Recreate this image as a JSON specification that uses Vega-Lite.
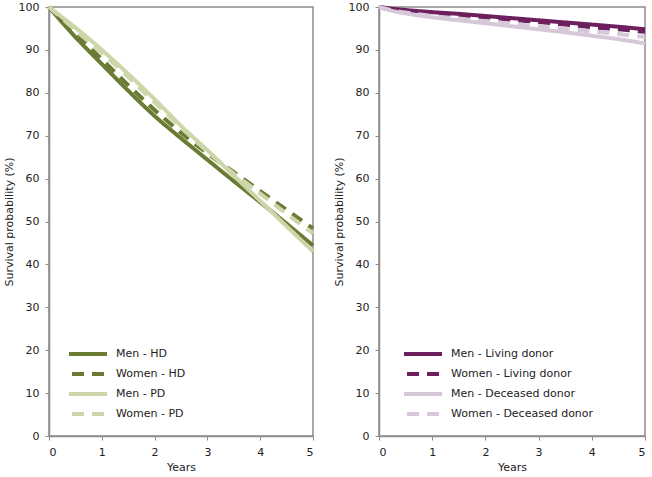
{
  "$schema": "https://vega.github.io/schema/vega-lite/v6.json",
  "padding": {"left": 2, "top": -2, "right": 4, "bottom": 2},
  "background": "white",
  "datasets": {
    "dialysis": [
      {"series": "Men - HD", "year": 0, "survival": 100}, {"series": "Men - HD", "year": 0.25, "survival": 96.4}, {"series": "Men - HD", "year": 0.5, "survival": 93.0}, {"series": "Men - HD", "year": 1, "survival": 86.7}, {"series": "Men - HD", "year": 1.5, "survival": 80.5}, {"series": "Men - HD", "year": 2, "survival": 74.6}, {"series": "Men - HD", "year": 2.5, "survival": 69.4}, {"series": "Men - HD", "year": 3, "survival": 64.4}, {"series": "Men - HD", "year": 3.5, "survival": 59.4}, {"series": "Men - HD", "year": 4, "survival": 54.5}, {"series": "Men - HD", "year": 4.5, "survival": 49.5}, {"series": "Men - HD", "year": 5, "survival": 44.4},
      {"series": "Women - HD", "year": 0, "survival": 100}, {"series": "Women - HD", "year": 0.25, "survival": 96.9}, {"series": "Women - HD", "year": 0.5, "survival": 93.8}, {"series": "Women - HD", "year": 1, "survival": 87.8}, {"series": "Women - HD", "year": 1.5, "survival": 81.8}, {"series": "Women - HD", "year": 2, "survival": 76.0}, {"series": "Women - HD", "year": 2.5, "survival": 70.7}, {"series": "Women - HD", "year": 3, "survival": 65.9}, {"series": "Women - HD", "year": 3.5, "survival": 61.5}, {"series": "Women - HD", "year": 4, "survival": 57.1}, {"series": "Women - HD", "year": 4.5, "survival": 52.7}, {"series": "Women - HD", "year": 5, "survival": 48.4},
      {"series": "Men - PD", "year": 0, "survival": 100}, {"series": "Men - PD", "year": 0.25, "survival": 97.6}, {"series": "Men - PD", "year": 0.5, "survival": 95.2}, {"series": "Men - PD", "year": 1, "survival": 90.0}, {"series": "Men - PD", "year": 1.5, "survival": 84.4}, {"series": "Men - PD", "year": 2, "survival": 78.5}, {"series": "Men - PD", "year": 2.5, "survival": 72.3}, {"series": "Men - PD", "year": 3, "survival": 66.6}, {"series": "Men - PD", "year": 3.5, "survival": 60.7}, {"series": "Men - PD", "year": 4, "survival": 54.8}, {"series": "Men - PD", "year": 4.5, "survival": 48.9}, {"series": "Men - PD", "year": 5, "survival": 43.0},
      {"series": "Women - PD", "year": 0, "survival": 100}, {"series": "Women - PD", "year": 0.25, "survival": 97.3}, {"series": "Women - PD", "year": 0.5, "survival": 94.6}, {"series": "Women - PD", "year": 1, "survival": 89.3}, {"series": "Women - PD", "year": 1.5, "survival": 83.7}, {"series": "Women - PD", "year": 2, "survival": 77.8}, {"series": "Women - PD", "year": 2.5, "survival": 71.9}, {"series": "Women - PD", "year": 3, "survival": 66.3}, {"series": "Women - PD", "year": 3.5, "survival": 61.2}, {"series": "Women - PD", "year": 4, "survival": 56.5}, {"series": "Women - PD", "year": 4.5, "survival": 51.8}, {"series": "Women - PD", "year": 5, "survival": 47.2}
    ],
    "transplant": [
      {"series": "Men - Living donor", "year": 0, "survival": 100}, {"series": "Men - Living donor", "year": 0.25, "survival": 99.6}, {"series": "Men - Living donor", "year": 0.5, "survival": 99.3}, {"series": "Men - Living donor", "year": 1, "survival": 98.8}, {"series": "Men - Living donor", "year": 1.5, "survival": 98.4}, {"series": "Men - Living donor", "year": 2, "survival": 97.9}, {"series": "Men - Living donor", "year": 2.5, "survival": 97.4}, {"series": "Men - Living donor", "year": 3, "survival": 96.9}, {"series": "Men - Living donor", "year": 3.5, "survival": 96.4}, {"series": "Men - Living donor", "year": 4, "survival": 95.9}, {"series": "Men - Living donor", "year": 4.5, "survival": 95.4}, {"series": "Men - Living donor", "year": 5, "survival": 94.8},
      {"series": "Women - Living donor", "year": 0, "survival": 100}, {"series": "Women - Living donor", "year": 0.25, "survival": 99.5}, {"series": "Women - Living donor", "year": 0.5, "survival": 99.1}, {"series": "Women - Living donor", "year": 1, "survival": 98.6}, {"series": "Women - Living donor", "year": 1.5, "survival": 98.1}, {"series": "Women - Living donor", "year": 2, "survival": 97.6}, {"series": "Women - Living donor", "year": 2.5, "survival": 97.0}, {"series": "Women - Living donor", "year": 3, "survival": 96.5}, {"series": "Women - Living donor", "year": 3.5, "survival": 95.9}, {"series": "Women - Living donor", "year": 4, "survival": 95.3}, {"series": "Women - Living donor", "year": 4.5, "survival": 94.8}, {"series": "Women - Living donor", "year": 5, "survival": 94.2},
      {"series": "Men - Deceased donor", "year": 0, "survival": 100}, {"series": "Men - Deceased donor", "year": 0.25, "survival": 99.1}, {"series": "Men - Deceased donor", "year": 0.5, "survival": 98.5}, {"series": "Men - Deceased donor", "year": 1, "survival": 97.6}, {"series": "Men - Deceased donor", "year": 1.5, "survival": 96.9}, {"series": "Men - Deceased donor", "year": 2, "survival": 96.2}, {"series": "Men - Deceased donor", "year": 2.5, "survival": 95.5}, {"series": "Men - Deceased donor", "year": 3, "survival": 94.8}, {"series": "Men - Deceased donor", "year": 3.5, "survival": 94.1}, {"series": "Men - Deceased donor", "year": 4, "survival": 93.3}, {"series": "Men - Deceased donor", "year": 4.5, "survival": 92.5}, {"series": "Men - Deceased donor", "year": 5, "survival": 91.5},
      {"series": "Women - Deceased donor", "year": 0, "survival": 100}, {"series": "Women - Deceased donor", "year": 0.25, "survival": 99.2}, {"series": "Women - Deceased donor", "year": 0.5, "survival": 98.7}, {"series": "Women - Deceased donor", "year": 1, "survival": 97.9}, {"series": "Women - Deceased donor", "year": 1.5, "survival": 97.3}, {"series": "Women - Deceased donor", "year": 2, "survival": 96.7}, {"series": "Women - Deceased donor", "year": 2.5, "survival": 96.1}, {"series": "Women - Deceased donor", "year": 3, "survival": 95.5}, {"series": "Women - Deceased donor", "year": 3.5, "survival": 94.9}, {"series": "Women - Deceased donor", "year": 4, "survival": 94.3}, {"series": "Women - Deceased donor", "year": 4.5, "survival": 93.7}, {"series": "Women - Deceased donor", "year": 5, "survival": 93.0}
    ]
  },
  "config": {
    "font": "DejaVu Sans",
    "view": {"stroke": "#8c8c8c", "strokeWidth": 1.5},
    "axis": {
      "grid": false,
      "domainColor": "#8c8c8c",
      "domainWidth": 1.5,
      "tickColor": "#8c8c8c",
      "tickWidth": 1,
      "tickSize": 4,
      "labelFontSize": 11,
      "labelColor": "#222222",
      "titleFontSize": 11,
      "titleFontWeight": "normal",
      "titleColor": "#222222",
      "labelPadding": 6
    },
    "legend": {
      "symbolType": "M-2.375,0H2.375",
      "symbolSize": 256,
      "symbolStrokeWidth": 4,
      "symbolDashOffset": -3,
      "symbolOffset": 9,
      "labelOffset": 18,
      "rowPadding": 2,
      "labelFontSize": 11,
      "labelColor": "#222222"
    }
  },
  "spacing": 10,
  "resolve": {"scale": {"color": "independent", "strokeDash": "independent"}},
  "hconcat": [
    {
      "width": 264,
      "height": 429,
      "data": {"name": "dialysis"},
      "mark": {"type": "line", "strokeWidth": 4, "interpolate": "monotone"},
      "encoding": {
        "x": {"field": "year", "type": "quantitative", "scale": {"domain": [0, 5]}, "axis": {"title": "Years", "values": [0, 1, 2, 3, 4, 5], "format": "d"}},
        "y": {"field": "survival", "type": "quantitative", "scale": {"domain": [0, 100]}, "axis": {"title": "Survival probability (%)", "values": [0, 10, 20, 30, 40, 50, 60, 70, 80, 90, 100]}},
        "color": {"field": "series", "type": "nominal", "scale": {"domain": ["Men - HD", "Women - HD", "Men - PD", "Women - PD"], "range": ["#6a7b34", "#6a7b34", "#cdd6a9", "#cdd6a9"]}, "legend": {"title": null, "orient": "none", "legendX": 20, "legendY": 337}},
        "strokeDash": {"field": "series", "type": "nominal", "scale": {"domain": ["Men - HD", "Women - HD", "Men - PD", "Women - PD"], "range": [[1, 0], [12, 8], [1, 0], [12, 8]]}, "legend": {"title": null, "orient": "none", "legendX": 20, "legendY": 337}}
      }
    },
    {
      "width": 266,
      "height": 429,
      "data": {"name": "transplant"},
      "mark": {"type": "line", "strokeWidth": 4, "interpolate": "monotone"},
      "encoding": {
        "x": {"field": "year", "type": "quantitative", "scale": {"domain": [0, 5]}, "axis": {"title": "Years", "values": [0, 1, 2, 3, 4, 5], "format": "d"}},
        "y": {"field": "survival", "type": "quantitative", "scale": {"domain": [0, 100]}, "axis": {"title": "Survival probability (%)", "values": [0, 10, 20, 30, 40, 50, 60, 70, 80, 90, 100]}},
        "color": {"field": "series", "type": "nominal", "scale": {"domain": ["Men - Living donor", "Women - Living donor", "Men - Deceased donor", "Women - Deceased donor"], "range": ["#6d1f5e", "#6d1f5e", "#d6c8d8", "#d6c8d8"]}, "legend": {"title": null, "orient": "none", "legendX": 25, "legendY": 337}},
        "strokeDash": {"field": "series", "type": "nominal", "scale": {"domain": ["Men - Living donor", "Women - Living donor", "Men - Deceased donor", "Women - Deceased donor"], "range": [[1, 0], [12, 8], [1, 0], [12, 8]]}, "legend": {"title": null, "orient": "none", "legendX": 25, "legendY": 337}}
      }
    }
  ]
}
